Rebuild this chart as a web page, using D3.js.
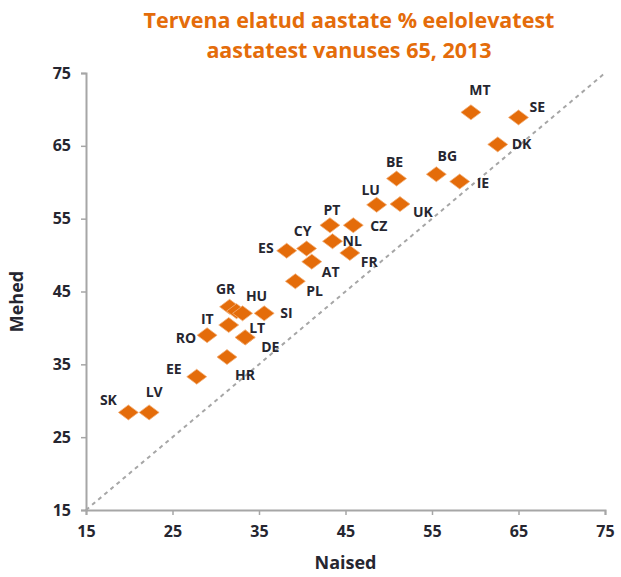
<!DOCTYPE html>
<html>
<head>
<meta charset="utf-8">
<script src="https://cdn.jsdelivr.net/npm/d3@7"></script>
<style>
  body { margin: 0; background: #fff; }
  text { font-family: "Open Sans", sans-serif; font-weight: bold; }
</style>
</head>
<body>
<svg width="621" height="577"></svg>
<script>
// Data: women (Naised) vs men (Mehed), %
var countries = ["MT", "SE", "DK", "BE", "BG", "IE", "LU", "UK", "PT", "CZ", "NL", "FR", "CY", "AT", "ES", "PL",
                 "GR", "FI", "HU", "SI", "IT", "RO", "LT", "DE", "HR", "EE", "SK", "LV"];
var naised = [59.5, 65.0, 62.6, 50.9, 55.5, 58.2, 48.6, 51.3, 43.2, 45.9, 43.5, 45.5, 40.5, 41.1, 38.2, 39.2,
              31.6, 32.4, 33.1, 35.6, 31.5, 29.0, 33.4, 33.4, 31.3, 27.8, 19.9, 22.3];
var mehed  = [69.6, 68.9, 65.2, 60.5, 61.1, 60.1, 56.9, 57.0, 54.1, 54.1, 51.9, 50.3, 50.9, 49.1, 50.6, 46.4,
              42.9, 42.3, 42.0, 42.0, 40.4, 39.0, 38.7, 38.7, 36.0, 33.3, 28.4, 28.4];
var ticks = [15, 25, 35, 45, 55, 65, 75];

// label placement: dx, dy from marker, text-anchor
var labelPos = {
  MT: [9, -22, "middle"], SE: [11, -10, "start"], DK: [14, 0, "start"], BE: [-2, -17, "middle"],
  BG: [11, -18, "middle"], IE: [17, 2, "start"], LU: [-6, -15, "middle"], UK: [13, 8, "start"],
  PT: [2, -15, "middle"], CZ: [17, 1, "start"], NL: [10, 0, "start"], FR: [11, 9, "start"],
  CY: [-4, -17, "middle"], AT: [10, 10, "start"], ES: [-13, -3, "end"], PL: [11, 10, "start"],
  GR: [-4, -18, "middle"], HU: [14, -17, "middle"], SI: [16, 0, "start"], IT: [-15, -6, "end"],
  RO: [-11, 3, "end"], LT: [12, -9, "middle"], DE: [16, 10, "start"], HR: [18, 18, "middle"],
  EE: [-15, -8, "end"], SK: [-20, -12, "middle"], LV: [5, -20, "middle"]
};

var data = countries.map(function(c, i) { return {c: c, x: naised[i], y: mehed[i]}; });

var svg = d3.select("svg"),
    margin = {top: 73, right: 16, bottom: 67, left: 86},
    g = svg.append("g")
      .attr("transform", "translate(" + margin.left + "," + margin.top + ")");

var x = d3.scaleLinear().domain([15, 75]).range([0, 519]),
    y = d3.scaleLinear().domain([15, 75]).range([437, 0]);

var orange = "#E46C0A", ink = "#262630", axisGray = "#a6a6a6";

// Title
svg.append("text")
  .attr("x", 349).attr("y", 28)
  .attr("text-anchor", "middle")
  .style("font-size", "21.5px").style("fill", orange)
  .text("Tervena elatud aastate % eelolevatest");
svg.append("text")
  .attr("x", 349).attr("y", 58)
  .attr("text-anchor", "middle")
  .style("font-size", "21.5px").style("fill", orange)
  .text("aastatest vanuses 65, 2013");

// Axes
var xAxis = g.append("g")
  .attr("transform", "translate(0," + y(15) + ")")
  .call(d3.axisBottom(x).tickValues(ticks).tickSize(5).tickPadding(11));
var yAxis = g.append("g")
  .call(d3.axisLeft(y).tickValues(ticks).tickSize(5).tickPadding(10));

[xAxis, yAxis].forEach(function(a) {
  a.select(".domain").attr("stroke", axisGray).attr("stroke-width", 2);
  a.selectAll(".tick line").attr("stroke", axisGray).attr("stroke-width", 1.5);
  a.selectAll(".tick text")
    .style("font-family", "'Open Sans', sans-serif")
    .style("font-weight", "bold").style("font-size", "16px").style("fill", ink);
});

// Axis titles
g.append("text")
  .attr("x", x(45)).attr("y", y(15) + 59)
  .attr("text-anchor", "middle")
  .style("font-size", "18px").style("fill", ink)
  .text("Naised");
g.append("text")
  .attr("transform", "rotate(-90)")
  .attr("x", -y(45) - 10).attr("y", -63)
  .attr("text-anchor", "middle")
  .style("font-size", "18px").style("fill", ink)
  .text("Mehed");

// 45-degree reference line
g.append("line")
  .attr("x1", x(15)).attr("y1", y(15))
  .attr("x2", x(75)).attr("y2", y(75))
  .attr("stroke", axisGray).attr("stroke-width", 2)
  .attr("stroke-dasharray", "4,4");

// Markers
g.selectAll(".pt")
  .data(data)
  .enter().append("path")
    .attr("class", "pt")
    .attr("d", "M0,-7.5L10,0L0,7.5L-10,0Z")
    .attr("transform", function(d) { return "translate(" + x(d.x) + "," + y(d.y) + ")"; })
    .attr("fill", orange)
    .attr("stroke", "#f3b27e").attr("stroke-width", 0.8);

// Labels
g.selectAll(".lbl")
  .data(data.filter(function(d) { return labelPos[d.c]; }))
  .enter().append("text")
    .attr("class", "lbl")
    .attr("x", function(d) { return x(d.x) + labelPos[d.c][0]; })
    .attr("y", function(d) { return y(d.y) + labelPos[d.c][1]; })
    .attr("dy", "0.35em")
    .attr("text-anchor", function(d) { return labelPos[d.c][2]; })
    .style("font-size", "14px").style("fill", ink)
    .text(function(d) { return d.c; });
</script>
</body>
</html>
